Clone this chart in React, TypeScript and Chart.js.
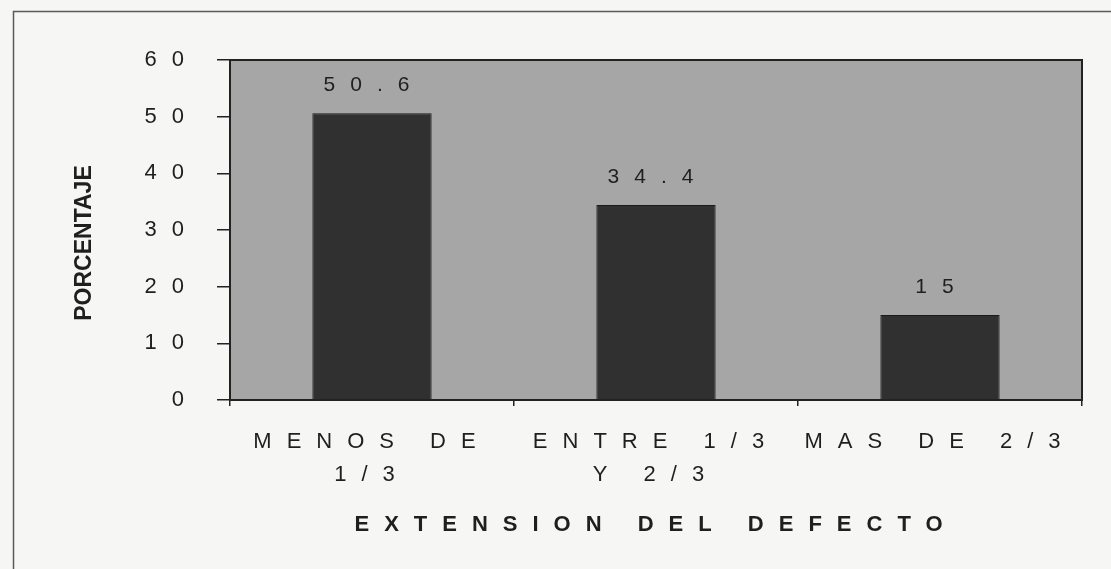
import React, { useEffect, useRef } from "react";
import { Chart, registerables } from "chart.js";

Chart.register(...registerables);

const categories: string[][] = [["MENOS DE", "1/3"], ["ENTRE 1/3", "Y 2/3"], ["MAS DE 2/3"]];
const values: number[] = [50.6, 34.4, 15];
const valueLabels: string[] = ["50.6", "34.4", "15"];
const yMin = 0;
const yMax = 60;
const yStep = 10;
const xTitle = "EXTENSION DEL DEFECTO";
const yTitle = "PORCENTAJE";

const FONT = "'Liberation Sans', Arial, Helvetica, sans-serif";
const SPACING = "15px";
const TEXT = "#1f1f1f";

const decorPlugin = {
  id: "decor",
  beforeUpdate(chart: any) {
    chart.ctx.letterSpacing = SPACING;
  },
  beforeLayout(chart: any) {
    chart.ctx.letterSpacing = SPACING;
  },
  beforeDraw(chart: any) {
    const ctx = chart.ctx;
    ctx.letterSpacing = SPACING;
    ctx.save();
    ctx.fillStyle = "#f6f6f5";
    ctx.fillRect(0, 0, chart.width, chart.height);
    ctx.strokeStyle = "#5a5a5a";
    ctx.lineWidth = 1.5;
    ctx.beginPath();
    ctx.moveTo(13.5, chart.height);
    ctx.lineTo(13.5, 11.5);
    ctx.lineTo(chart.width, 11.5);
    ctx.stroke();
    const a = chart.chartArea;
    ctx.fillStyle = "#a6a6a6";
    ctx.fillRect(a.left, a.top, a.right - a.left, a.bottom - a.top);
    ctx.restore();
  },
  afterDatasetsDraw(chart: any) {
    const ctx = chart.ctx;
    const a = chart.chartArea;
    ctx.save();
    ctx.strokeStyle = "#222222";
    ctx.lineWidth = 2;
    ctx.strokeRect(a.left, a.top, a.right - a.left, a.bottom - a.top);
    ctx.letterSpacing = SPACING;
    ctx.fillStyle = TEXT;
    ctx.font = `21px ${FONT}`;
    ctx.textAlign = "center";
    ctx.textBaseline = "middle";
    const meta = chart.getDatasetMeta(0);
    meta.data.forEach((bar: any, i: number) => {
      ctx.fillText(valueLabels[i], bar.x + 2, bar.y - 28);
    });
    ctx.restore();
  },
  afterDraw(chart: any) {
    const ctx = chart.ctx;
    const a = chart.chartArea;
    ctx.save();
    ctx.letterSpacing = "0px";
    ctx.fillStyle = TEXT;
    ctx.font = `bold 23px ${FONT}`;
    ctx.textAlign = "center";
    ctx.textBaseline = "middle";
    ctx.translate(85, (a.top + a.bottom) / 2 + 13);
    ctx.rotate(-Math.PI / 2);
    ctx.fillText(yTitle, 0, 0);
    ctx.restore();
    ctx.letterSpacing = SPACING;
  },
};

export default function App() {
  const ref = useRef<HTMLCanvasElement | null>(null);

  useEffect(() => {
    document.body.style.margin = "0";
    document.body.style.background = "#f6f6f5";
    const canvas = ref.current;
    if (!canvas) return;
    const chart = new Chart(canvas, {
      type: "bar",
      data: {
        labels: categories,
        datasets: [
          {
            data: values,
            backgroundColor: "#303030",
            borderColor: "#1a1a1a",
            borderWidth: 1,
            categoryPercentage: 1,
            barPercentage: 0.42,
          },
        ],
      },
      options: {
        responsive: false,
        animation: false,
        events: [],
        layout: { padding: { left: 0, right: 29, top: 60, bottom: 0 } },
        plugins: {
          legend: { display: false },
          tooltip: { enabled: false },
          title: { display: false },
        },
        scales: {
          x: {
            offset: true,
            border: { display: false },
            grid: {
              offset: true,
              drawOnChartArea: false,
              drawTicks: true,
              tickLength: 6,
              tickColor: "#222222",
              lineWidth: 1.5,
            },
            ticks: {
              color: TEXT,
              font: { family: FONT, size: 22, lineHeight: 1.5 },
              padding: 19,
              maxRotation: 0,
              autoSkip: false,
            },
            title: {
              display: true,
              text: xTitle,
              color: TEXT,
              font: { family: FONT, size: 22, weight: "bold", lineHeight: 1.2 },
              padding: { top: 0, bottom: 31 },
            },
            afterFit(scale: any) {
              scale.height = 169;
            },
          },
          y: {
            min: yMin,
            max: yMax,
            border: { display: false },
            grid: {
              drawOnChartArea: false,
              drawTicks: true,
              tickLength: 13,
              tickColor: "#222222",
              lineWidth: 1.5,
            },
            ticks: {
              stepSize: yStep,
              color: TEXT,
              font: { family: FONT, size: 22 },
              padding: 18,
            },
            afterFit(scale: any) {
              scale.width = 230;
            },
          },
        },
      },
      plugins: [decorPlugin],
    } as any);
    return () => chart.destroy();
  }, []);

  return (
    <div style={{ width: 1111, height: 569 }}>
      <canvas ref={ref} width={1111} height={569} style={{ display: "block" }} />
    </div>
  );
}
